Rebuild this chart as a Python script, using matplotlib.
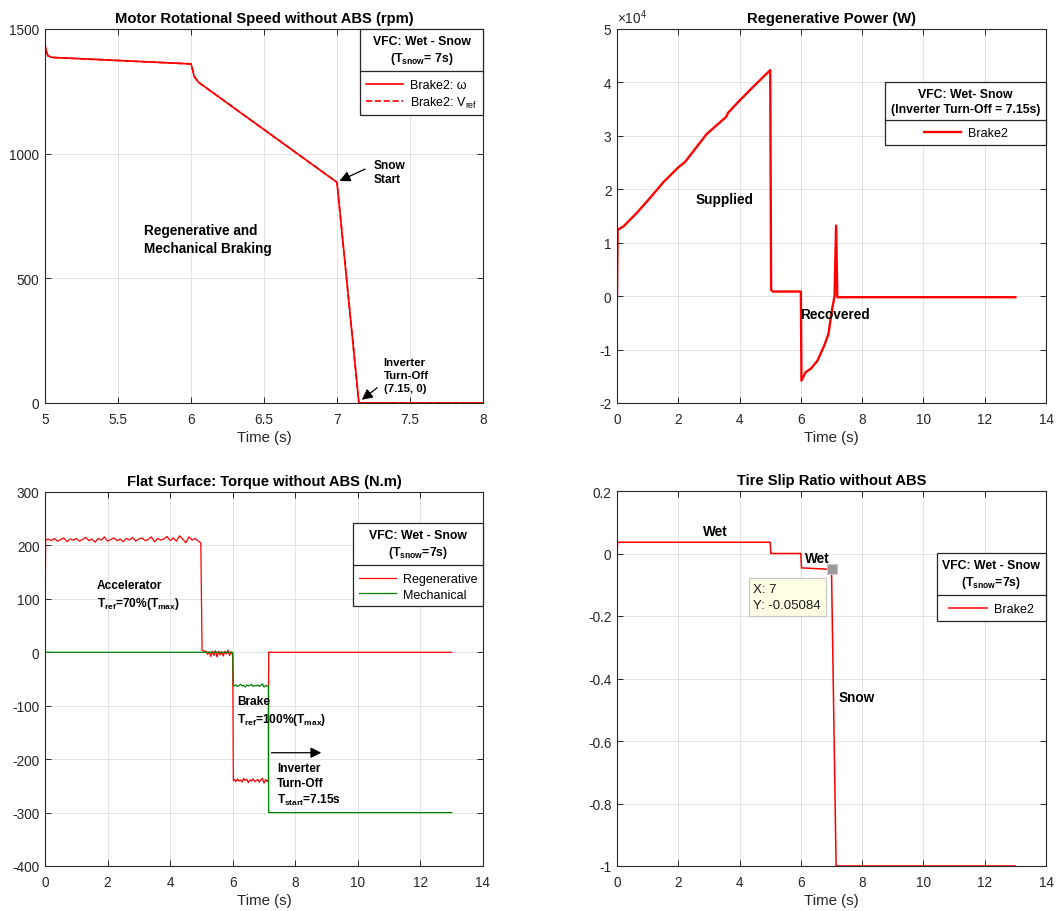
import numpy as np
import matplotlib
matplotlib.use("Agg")
import matplotlib.pyplot as plt
from matplotlib.lines import Line2D
from matplotlib.ticker import FuncFormatter

plt.rcParams.update({
    "font.family": ["Liberation Sans", "DejaVu Sans"],
    "mathtext.fontset": "custom",
    "mathtext.rm": "Liberation Sans",
    "mathtext.it": "Liberation Sans:italic",
    "mathtext.bf": "Liberation Sans:bold",
    "mathtext.default": "regular",
    "axes.unicode_minus": False,
})

# ---------------- data ----------------
# Motor rotational speed (rpm), 5 s .. 8 s
speed_t = [5.0, 5.005, 5.02, 5.05, 6.0, 6.01, 6.02, 6.05, 7.0, 7.15, 8.0]
speed_w = [1440, 1418, 1392, 1386, 1360, 1340, 1312, 1287, 885, 0, 0]
vref_t = speed_t
vref_w = speed_w

# Regenerative power (W)
power_t = [0.0, 0.02, 0.22, 0.65, 1.08, 1.51, 2.0, 2.2, 2.26, 2.92, 3.57,
           3.62, 4.0, 4.43, 5.0, 5.03, 5.08, 6.0, 6.02, 6.16, 6.32, 6.54,
           6.76, 6.90, 6.97, 7.03, 7.10, 7.15, 7.19, 13.0]
power_w = [0, 12400, 13100, 15600, 18400, 21300, 24100, 25000, 25400, 30300,
           33600, 34300, 36600, 39100, 42300, 1200, 860, 860, -15800,
           -14200, -13600, -12100, -9300, -7100, -4300, -2100, 0, 13200, -200,
           -200]
power_exp = 4

# Torque (N.m)
accel_t = list(np.round(np.arange(1, 50) * 0.1, 2))
accel_v = [212, 209, 213, 208, 211, 214, 207, 212, 210, 213, 208, 211, 215, 209,
           212, 206, 213, 210, 216, 208, 211, 214, 209, 212, 207, 213, 210, 215,
           208, 212, 214, 209, 211, 216, 207, 213, 210, 212, 217, 209, 214, 208,
           218, 212, 205, 216, 210, 213, 208]
coast_t = list(np.round(5.1 + np.arange(18) * 0.05, 2))
coast_v = [2, 2, -4, 1, -8, 2, -6, 3, -9, 2, -5, 1, -7, 2, -3, 4, -6, 1]
brake_t = list(np.round(6.05 + np.arange(22) * 0.05, 2))
brake_regen_v = [-238, -242, -237, -241, -239, -243, -236, -240, -238, -244,
                 -239, -241, -237, -242, -240, -238, -243, -239, -236, -245,
                 -238, -242]
brake_mech_v = [-63, -61, -64, -62, -60, -63, -62, -65, -61, -63, -62, -60,
                -64, -62, -63, -61, -64, -62, -59, -65, -62, -63]

regen_t = [0.0, 0.02] + accel_t + [4.98, 5.02] + coast_t + [6.0, 6.02] + brake_t + [7.14, 7.15, 13.0]
regen_v = [0, 210] + accel_v + [205, 4] + coast_v + [-5, -240] + brake_regen_v + [-238, 0, 0]
mech_t = [0.0, 6.0, 6.02] + brake_t + [7.14, 7.15, 13.0]
mech_v = [0, 0, -62] + brake_mech_v + [-63, -300, -300]

# Tire slip ratio
slip_t = [0.0, 0.02, 5.0, 5.02, 6.0, 6.02, 7.0, 7.15, 13.0]
slip_v = [0.0, 0.036, 0.036, 0.0, 0.0, -0.046, -0.05084, -1.0, -1.0]
tip_x, tip_y = 7, -0.05084

# ---------------- style ----------------
RED = "#FF0000"
GREEN = "#008000"
AX_COL = "#262626"
GRID = "#E3E3E3"
TICK_FS = 9.8
TITLE_FS = 10.6
LEG_FS = 9.0
LEG_TITLE_FS = 8.8
ANN_FS = 8.6

fig = plt.figure(figsize=(10.64, 9.12), dpi=100)
W, H = 1064, 912


def make_axes(l, t, r, b):
    return fig.add_axes([l / W, 1 - b / H, (r - l) / W, (b - t) / H])


def style(ax):
    ax.grid(True, color=GRID, lw=0.7)
    ax.set_axisbelow(True)
    for s in ax.spines.values():
        s.set_color(AX_COL)
        s.set_linewidth(0.8)
    ax.tick_params(direction="in", top=True, right=True, length=4, width=0.7,
                   colors=AX_COL, labelsize=TICK_FS)
    ax.tick_params(axis="x", pad=6.5)
    ax.tick_params(axis="y", pad=4)
    ax.set_xlabel("Time (s)", fontsize=10.8, color=AX_COL, labelpad=3)


def legend(ax, handles, labels, title, y_anchor):
    leg = ax.legend(handles, labels, title=title, loc="upper right",
                    bbox_to_anchor=(1.0, y_anchor), borderaxespad=0,
                    fontsize=LEG_FS,
                    title_fontproperties={"weight": "bold", "size": LEG_TITLE_FS},
                    fancybox=False, framealpha=1, edgecolor=AX_COL,
                    handlelength=3.0, handletextpad=0.55, borderpad=0.45,
                    labelspacing=0.3)
    leg.get_frame().set_linewidth(0.9)
    leg.get_title().set_multialignment("center")
    leg.get_title().set_linespacing(1.35)
    # extra room between the title block and the entries
    leg._legend_box.sep = 9
    return leg


arrow_kw = dict(arrowstyle="-|>", color="k", lw=0.9, mutation_scale=16)

# ---------------- motor speed ----------------
ax1 = make_axes(45, 30, 483, 404)
ax1.plot(speed_t, speed_w, color=RED, lw=1.2, label="Brake2: ω")
ax1.plot(vref_t, vref_w, color=RED, lw=1.2, ls="--", label="Brake2: V$_{ref}$")
ax1.set_xlim(5, 8)
ax1.set_ylim(0, 1500)
ax1.set_xticks([5, 5.5, 6, 6.5, 7, 7.5, 8])
ax1.set_xticklabels(["5", "5.5", "6", "6.5", "7", "7.5", "8"])
ax1.set_yticks([0, 500, 1000, 1500])
style(ax1)
ax1.set_title("Motor Rotational Speed without ABS (rpm)", fontsize=TITLE_FS,
              fontweight="bold", pad=5)
h, l = ax1.get_legend_handles_labels()
leg1 = legend(ax1, h, l, "VFC: Wet - Snow\n(T$_{\\mathbf{snow}}$= 7s)", 1.0)
ax1.annotate("", xy=(7.0, 886), xytext=(7.21, 943), arrowprops=arrow_kw)
ax1.text(7.25, 927, "Snow\nStart", fontsize=ANN_FS, fontweight="bold",
         ha="left", va="center", linespacing=1.3)
ax1.text(5.68, 658, "Regenerative and\nMechanical Braking", fontsize=9.8,
         fontweight="bold", ha="left", va="center", linespacing=1.3)
ax1.annotate("", xy=(7.155, 6), xytext=(7.29, 68), arrowprops=arrow_kw)
ax1.text(7.32, 112, "Inverter\nTurn-Off\n(7.15, 0)", fontsize=ANN_FS - 0.4,
         fontweight="bold", ha="left", va="center", linespacing=1.35)

# ---------------- regenerative power ----------------
ax2 = make_axes(617, 30, 1046, 404)
ax2.plot(power_t, power_w, color=RED, lw=1.7, label="Brake2")
ax2.set_xlim(0, 14)
ax2.set_ylim(-2e4, 5e4)
ax2.set_xticks(range(0, 15, 2))
ax2.set_yticks(np.arange(-2e4, 5.1e4, 1e4))
ax2.yaxis.set_major_formatter(FuncFormatter(lambda v, _: f"{v / 10 ** power_exp:g}"))
style(ax2)
ax2.text(0.0, 1.008, "×10$^{%d}$" % power_exp, transform=ax2.transAxes,
         fontsize=TICK_FS, color=AX_COL, ha="left", va="bottom")
ax2.set_title("Regenerative Power (W)", fontsize=TITLE_FS, fontweight="bold", pad=5)
h, l = ax2.get_legend_handles_labels()
leg2 = legend(ax2, h, l, "VFC: Wet- Snow\n(Inverter Turn-Off = 7.15s)", 1 - 53 / 374)
ax2.text(3.52, 1.82e4, "Supplied", fontsize=9.8, fontweight="bold", ha="center", va="center")
ax2.text(7.11, -0.335e4, "Recovered", fontsize=9.8, fontweight="bold", ha="center", va="center")

# ---------------- torque ----------------
ax3 = make_axes(45, 493, 483, 867)
ax3.plot(regen_t, regen_v, color=RED, lw=0.9, label="Regenerative")
ax3.plot(mech_t, mech_v, color=GREEN, lw=0.9, label="Mechanical")
ax3.set_xlim(0, 14)
ax3.set_ylim(-400, 300)
ax3.set_xticks(range(0, 15, 2))
ax3.set_yticks(range(-400, 301, 100))
style(ax3)
ax3.set_title("Flat Surface: Torque without ABS (N.m)", fontsize=TITLE_FS,
              fontweight="bold", pad=5)
h, l = ax3.get_legend_handles_labels()
leg3 = legend(ax3, h, l, "VFC: Wet - Snow\n(T$_{\\mathbf{snow}}$=7s)", 1 - 31 / 374)
ax3.text(1.66, 107, "Accelerator\nT$_{\\mathbf{ref}}$=70%(T$_{\\mathbf{max}}$)",
         fontsize=ANN_FS, fontweight="bold", ha="left", va="center", linespacing=1.3)
ax3.text(6.14, -110, "Brake\nT$_{\\mathbf{ref}}$=100%(T$_{\\mathbf{max}}$)",
         fontsize=ANN_FS, fontweight="bold", ha="left", va="center", linespacing=1.3)
ax3.annotate("", xy=(8.92, -188), xytext=(7.15, -188), arrowprops=arrow_kw)
ax3.text(7.41, -248, "Inverter\nTurn-Off\nT$_{\\mathbf{start}}$=7.15s",
         fontsize=ANN_FS, fontweight="bold", ha="left", va="center", linespacing=1.3)

# ---------------- slip ratio ----------------
ax4 = make_axes(617, 492, 1046, 867)
ax4.plot(slip_t, slip_v, color=RED, lw=1.1, label="Brake2")
ax4.set_xlim(0, 14)
ax4.set_ylim(-1, 0.2)
ax4.set_xticks(range(0, 15, 2))
ax4.set_yticks([-1, -0.8, -0.6, -0.4, -0.2, 0, 0.2])
ax4.set_yticklabels(["-1", "-0.8", "-0.6", "-0.4", "-0.2", "0", "0.2"])
style(ax4)
ax4.set_title("Tire Slip Ratio without ABS", fontsize=TITLE_FS, fontweight="bold", pad=5)
h, l = ax4.get_legend_handles_labels()
leg4 = legend(ax4, h, l, "VFC: Wet - Snow\n(T$_{\\mathbf{snow}}$=7s)", 1 - 62 / 375)
ax4.text(3.2, 0.072, "Wet", fontsize=9.8, fontweight="bold", ha="center", va="center")
ax4.text(6.53, -0.014, "Wet", fontsize=9.8, fontweight="bold", ha="center", va="center")
ax4.text(7.83, -0.46, "Snow", fontsize=9.8, fontweight="bold", ha="center", va="center")
ax4.plot([tip_x], [tip_y], marker="s", ms=7.5, mfc="#9A9A9A", mec="#C8C8C8",
         mew=0.8, zorder=5)
ax4.text(4.45, -0.139, f"X: {tip_x}\nY: {tip_y}", fontsize=9.5, color="#1a1a1a",
         ha="left", va="center", linespacing=1.45, zorder=6,
         bbox=dict(boxstyle="square,pad=0.35", fc="#FFFFE6", ec="#C8C8C8", lw=0.9))

# separator line between each legend title and its entries
fig.canvas.draw()
renderer = fig.canvas.get_renderer()
inv = fig.transFigure.inverted()
for leg in (leg1, leg2, leg3, leg4):
    fb = leg.get_frame().get_window_extent(renderer)
    tb = leg.get_title().get_window_extent(renderer)
    y = tb.y0 - 5
    (x0, yy), (x1, _) = inv.transform([(fb.x0, y), (fb.x1, y)])
    fig.add_artist(Line2D([x0, x1], [yy, yy], transform=fig.transFigure,
                          color=AX_COL, lw=0.9, zorder=10))

fig.savefig("out.png", dpi=100)
